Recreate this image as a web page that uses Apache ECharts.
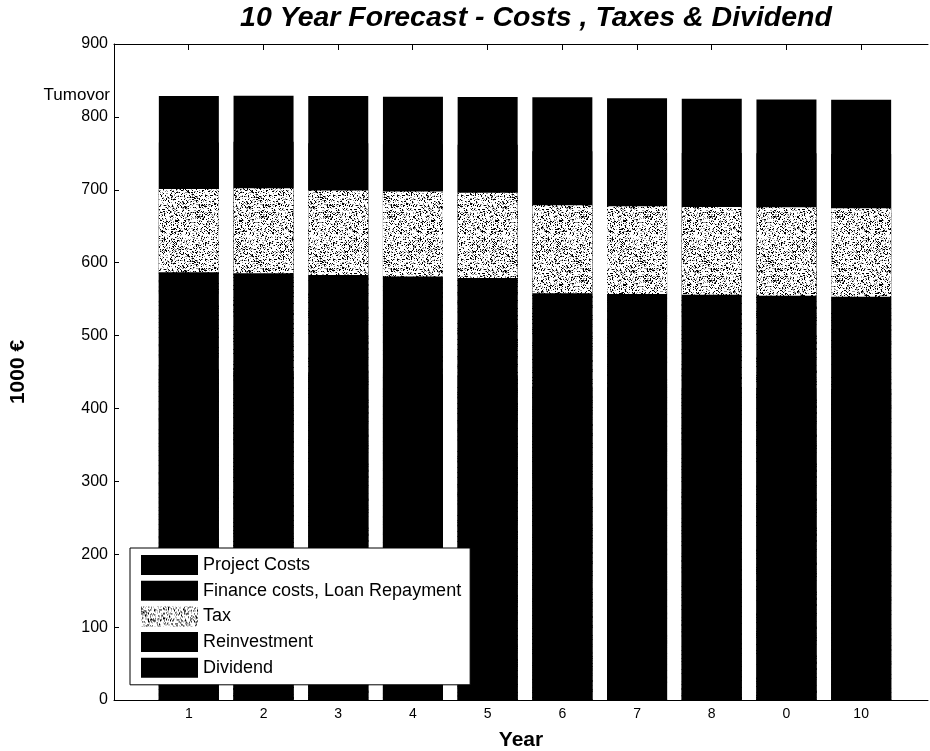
<!DOCTYPE html>
<html>
<head>
<meta charset="utf-8">
<script src="https://cdn.jsdelivr.net/npm/echarts@6/dist/echarts.min.js"></script>
<style>
html, body { margin: 0; padding: 0; background: #fff; }
#chart { width: 930px; height: 751px; }
</style>
</head>
<body>
<div id="chart"></div>
<script>
// tick labels as printed under the bars
var yearLabels = ['1', '2', '3', '4', '5', '6', '7', '8', '0', '10'];
var yearPos = [1, 2, 3, 4, 5, 6, 7, 8, 9, 10];

// 1000 EUR (stacked bottom -> top)
var projectCosts = [453, 451.5, 449, 447, 445, 430, 429, 428, 427, 426];
var financeCosts = [134, 134, 134, 134, 134, 128, 128, 128, 127.5, 127.4];
var tax = [114, 116.5, 116, 116.6, 116.8, 120.7, 120.3, 120.4, 121.5, 121.2];
var reinvestment = [64, 64, 65, 65, 66, 74, 74, 74, 74, 74.5];
var dividend = [63.5, 63, 64.5, 65, 65.4, 74.1, 74.2, 74.6, 74, 74.5];
var turnoverLevel = 830;

const FONT = '"Liberation Sans", Arial, sans-serif';

// stipple tile for the tax band
function stipple() {
    var c = document.createElement('canvas');
    c.width = 64; c.height = 64;
    var ctx = c.getContext('2d');
    var img = ctx.createImageData(64, 64);
    for (var y = 0; y < 64; y++) {
        for (var x = 0; x < 64; x++) {
            var h = Math.sin(x * 12.9898 + y * 78.233) * 43758.5453;
            h = h - Math.floor(h);
            var v = h < 0.17 ? 0 : (h < 0.33 ? 150 : 255);
            var k = (y * 64 + x) * 4;
            img.data[k] = img.data[k + 1] = img.data[k + 2] = v;
            img.data[k + 3] = 255;
        }
    }
    ctx.putImageData(img, 0, 0);
    return c;
}

// running totals, so each layer is a full bar from 0 painted over the next one
var layers = [projectCosts, financeCosts, tax, reinvestment, dividend];
var running = [];
layers.forEach(function (arr, k) {
    running.push(arr.map(function (v, i) { return k ? running[k - 1][i] + v : v; }));
});

var chart = echarts.init(document.getElementById('chart'));

function barSeries(name, k, color) {
    return {
        name: name,
        type: 'bar',
        barWidth: 60,
        barGap: '-100%',
        z: 10 - k,
        xAxisIndex: 0,
        yAxisIndex: 0,
        data: running[k],
        itemStyle: { color: color },
        emphasis: { disabled: true }
    };
}

var pattern = { image: stipple(), repeat: 'repeat' };
var lineBlack = { color: '#000', width: 1 };

chart.setOption({
    animation: false,
    backgroundColor: '#fff',
    title: {
        text: '10 Year Forecast - Costs , Taxes & Dividend',
        left: 531,
        textAlign: 'center',
        top: -1,
        textStyle: { fontFamily: FONT, fontSize: 28.5, fontWeight: 'bold', fontStyle: 'italic', color: '#000' }
    },
    legend: {
        orient: 'vertical',
        z: 50,
        left: 130,
        top: 548,
        icon: 'rect',
        itemWidth: 57,
        itemHeight: 20,
        itemGap: 5.7,
        padding: [7, 9, 7, 11],
        backgroundColor: '#fff',
        borderColor: '#000',
        borderWidth: 1,
        borderRadius: 0,
        itemStyle: { borderWidth: 0 },
        textStyle: { fontFamily: FONT, fontSize: 18, color: '#000', lineHeight: 20 },
        data: ['Project Costs', 'Finance costs, Loan Repayment', 'Tax', 'Reinvestment', 'Dividend']
    },
    grid: [
        // bars: ten category bands, 1 .. 10
        { left: 151.5, right: 31.5, top: 44, bottom: 51, containLabel: false, outerBoundsMode: 'none' },
        // frame: the axes box, 0 .. 10.9 on x
        { left: 114, right: 2, top: 44, bottom: 51, containLabel: false, outerBoundsMode: 'none' }
    ],
    xAxis: [{
        type: 'category',
        gridIndex: 0,
        data: yearLabels,
        axisLine: { show: false },
        axisTick: { show: false },
        axisLabel: { margin: 7, fontFamily: FONT, fontSize: 14, color: '#000' }
    }, {
        type: 'value',
        gridIndex: 1,
        min: 0,
        max: 10.9,
        name: 'Year',
        nameLocation: 'middle',
        nameGap: 30,
        nameTextStyle: { fontFamily: FONT, fontSize: 21, fontWeight: 'bold', color: '#000' },
        splitLine: { show: false },
        axisLine: { show: true, onZero: false, lineStyle: lineBlack },
        axisTick: { inside: true, length: 5, customValues: yearPos, lineStyle: { color: '#000' } },
        axisLabel: { show: false }
    }, {
        type: 'value',
        gridIndex: 1,
        position: 'top',
        min: 0,
        max: 10.9,
        splitLine: { show: false },
        axisLine: { show: true, onZero: false, lineStyle: lineBlack },
        axisTick: { inside: true, length: 6, customValues: yearPos, lineStyle: { color: '#000' } },
        axisLabel: { show: false }
    }],
    yAxis: [{
        type: 'value',
        gridIndex: 0,
        min: 0,
        max: 900,
        interval: 100,
        show: false
    }, {
        type: 'value',
        gridIndex: 1,
        min: 0,
        max: 900,
        interval: 100,
        name: '1000 €',
        nameLocation: 'middle',
        nameGap: 85,
        nameTextStyle: { fontFamily: FONT, fontSize: 21, fontWeight: 'bold', color: '#000' },
        splitLine: { show: false },
        axisLine: { show: true, lineStyle: lineBlack },
        axisTick: { inside: true, length: 5, lineStyle: { color: '#000' } },
        axisLabel: { margin: 6, fontFamily: FONT, fontSize: 16, color: '#000' }
    }],
    series: [
        barSeries('Project Costs', 0, '#000'),
        barSeries('Finance costs, Loan Repayment', 1, '#000'),
        barSeries('Tax', 2, pattern),
        barSeries('Reinvestment', 3, '#000'),
        barSeries('Dividend', 4, '#000')
    ]
});

// turnover note beside the y axis, placed at its value
var ty = chart.convertToPixel({ yAxisIndex: 1 }, turnoverLevel);
chart.setOption({
    graphic: [{
        type: 'text',
        x: 110,
        y: ty,
        style: {
            text: 'Tumovor',
            align: 'right',
            verticalAlign: 'middle',
            font: '17px ' + FONT,
            fill: '#000'
        }
    }]
});
</script>
</body>
</html>
